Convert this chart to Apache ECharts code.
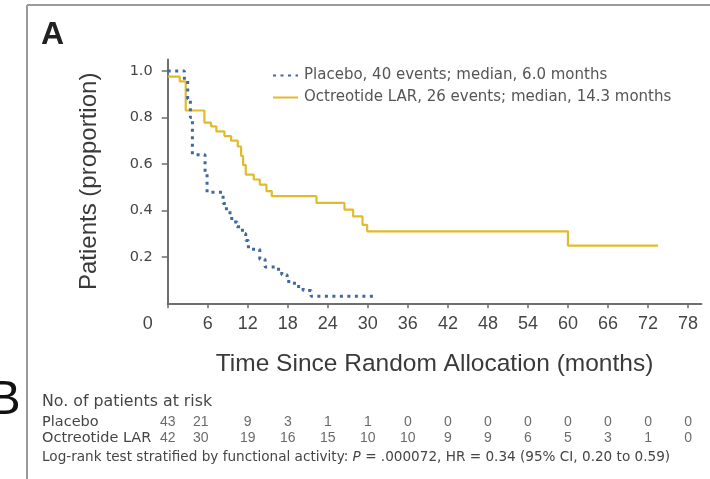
<!DOCTYPE html>
<html><head><meta charset="utf-8">
<script src="https://cdn.jsdelivr.net/npm/echarts@6/dist/echarts.min.js"></script>
<style>html,body{margin:0;padding:0;background:#fff}#c{width:710px;height:479px}</style>
</head><body><div id="c"></div>
<script>
const monthTicks = [0,6,12,18,24,30,36,42,48,54,60,66,72,78];
const proportionTicks = [0.2,0.4,0.6,0.8,1.0];
const seriesNames = ['Placebo, 40 events; median, 6.0 months','Octreotide LAR, 26 events; median, 14.3 months'];
const riskGroups = ['Octreotide LAR','Placebo'];
const placeboAtRisk = [43,21,9,3,1,1,0,0,0,0,0,0,0,0];
const octreotideAtRisk = [42,30,19,16,15,10,10,9,9,6,5,3,1,0];
const placeboMonths = [0,2.5,3.0,3.4,3.7,5.6,5.9,8.3,8.8,9.6,10.4,11.2,11.7,12.1,13.8,14.6,16.3,17.1,17.9,19.0,20.3,21.5,30.8];
const placeboSurvival = [1.0,0.96,0.88,0.80,0.64,0.56,0.478,0.43,0.39,0.35,0.33,0.30,0.27,0.233,0.19,0.156,0.147,0.123,0.094,0.072,0.055,0.03,0.03];
const octreotideMonths = [0,1.8,2.7,5.5,6.5,7.3,8.5,9.5,10.5,11.0,11.3,11.7,12.9,13.8,14.8,15.6,22.3,26.5,27.8,29.2,29.9,60.0,73.5];
const octreotideSurvival = [0.976,0.955,0.83,0.778,0.762,0.74,0.72,0.70,0.675,0.635,0.595,0.554,0.533,0.511,0.483,0.461,0.432,0.403,0.374,0.338,0.31,0.248,0.248];

const SANS = "'Liberation Sans',Arial,sans-serif";
const WIDE = "'DejaVu Sans',sans-serif";
const AXIS_COLOR = '#6e6e6e';
const TEXT = '#454545';
const BLUE = '#3d699f';
const GOLD = '#e2bb2a';

const chart = echarts.init(document.getElementById('c'), null, {renderer: 'canvas'});

function riskSeries(values, group) {
  return {
    type: 'scatter', xAxisIndex: 1, yAxisIndex: 1, silent: true,
    data: monthTicks.map((t, i) => ({
      value: [t, riskGroups.indexOf(group), values[i]],
      label: {offset: [t === 6 ? -7 : 0, 0]}
    })),
    symbolSize: 1, itemStyle: {color: 'rgba(0,0,0,0)'},
    label: {show: true, position: 'inside', formatter: p => String(p.value[2]),
      fontFamily: SANS, fontSize: 14, color: TEXT}
  };
}

const option = {
  animation: false,
  backgroundColor: '#fff',
  grid: [
    {left: 167.7, top: 59.4, width: 533.7, height: 243.9},
    {left: 167.7, top: 414, width: 533.7, height: 32}
  ],
  xAxis: [
    {gridIndex: 0, type: 'value', min: 0, max: 80,
      axisLine: {show: true, onZero: false, lineStyle: {color: AXIS_COLOR, width: 2}},
      axisTick: {show: true, length: 5, customValues: monthTicks, lineStyle: {color: AXIS_COLOR, width: 1.5}},
      axisLabel: {customValues: monthTicks, margin: 12, fontFamily: SANS, fontSize: 18, color: TEXT,
        formatter: v => v === 0 ? '{z|0}' : String(v),
        rich: {z: {padding: [0, 40, 0, 0], fontFamily: SANS, fontSize: 18, color: TEXT}}},
      splitLine: {show: false},
      name: 'Time Since Random Allocation (months)', nameLocation: 'middle', nameGap: 48,
      nameTextStyle: {fontFamily: SANS, fontSize: 24.5, color: '#3a3a3a'}},
    {gridIndex: 1, type: 'value', min: 0, max: 80, show: false}
  ],
  yAxis: [
    {gridIndex: 0, type: 'value', min: 0, max: 1.05,
      axisLine: {show: true, lineStyle: {color: AXIS_COLOR, width: 2}},
      axisTick: {show: true, length: 6, customValues: proportionTicks, lineStyle: {color: AXIS_COLOR, width: 1.5}},
      axisLabel: {customValues: proportionTicks, margin: 15, formatter: v => v.toFixed(1),
        fontFamily: WIDE, fontSize: 14.5, color: TEXT},
      splitLine: {show: false},
      name: 'Patients (proportion)', nameLocation: 'middle', nameGap: 66,
      nameTextStyle: {fontFamily: SANS, fontSize: 24, color: '#3a3a3a'}},
    {gridIndex: 1, type: 'category', data: riskGroups,
      axisLine: {show: false}, axisTick: {show: false}, splitLine: {show: false},
      axisLabel: {interval: 0, align: 'left', margin: 125.7, fontFamily: WIDE, fontSize: 14.5, color: TEXT}}
  ],
  legend: {
    data: seriesNames, orient: 'vertical', left: 267, top: 63,
    itemWidth: 25, itemHeight: 14, itemGap: 7,
    itemStyle: {opacity: 0},
    textStyle: {fontFamily: WIDE, fontSize: 15, color: '#555', padding: [0, 0, 0, 1]}
  },
  series: [
    {name: seriesNames[0], type: 'line', step: 'end', symbol: 'none', z: 3,
      data: placeboMonths.map((t, i) => [t, placeboSurvival[i]]),
      lineStyle: {color: BLUE, width: 3, type: [3, 4.5]}, itemStyle: {color: BLUE}},
    {name: seriesNames[1], type: 'line', step: 'end', symbol: 'none', z: 2,
      data: octreotideMonths.map((t, i) => [t, octreotideSurvival[i]]),
      lineStyle: {color: GOLD, width: 2.2}, itemStyle: {color: GOLD}},
    riskSeries(placeboAtRisk, 'Placebo'),
    riskSeries(octreotideAtRisk, 'Octreotide LAR')
  ],
  graphic: [
    {type: 'line', shape: {x1: 27, y1: 5, x2: 710, y2: 5}, style: {stroke: '#9a9a9a', lineWidth: 2}},
    {type: 'line', shape: {x1: 27, y1: 5, x2: 27, y2: 479}, style: {stroke: '#9a9a9a', lineWidth: 2}},
    {type: 'text', x: 41, y: 35, style: {text: 'A', font: "bold 32px 'Liberation Sans'", fill: '#222', verticalAlign: 'middle'}},
    {type: 'text', x: -12, y: 400, style: {text: 'B', font: "49px 'Liberation Sans'", fill: '#111', verticalAlign: 'middle'}},
    {type: 'text', x: 42, y: 402, style: {text: 'No. of patients at risk', font: "15.8px 'DejaVu Sans'", fill: TEXT, verticalAlign: 'middle'}},
    {type: 'text', x: 42, y: 457, style: {
      text: 'Log-rank test stratified by functional activity: {i|P} = .000072, HR = 0.34 (95% CI, 0.20 to 0.59)',
      font: "13.6px 'DejaVu Sans'", fill: TEXT, verticalAlign: 'middle',
      rich: {i: {fontStyle: 'italic', fontFamily: 'DejaVu Sans', fontSize: 13.6, fill: TEXT}}}}
  ]
};
chart.setOption(option);
</script></body></html>
